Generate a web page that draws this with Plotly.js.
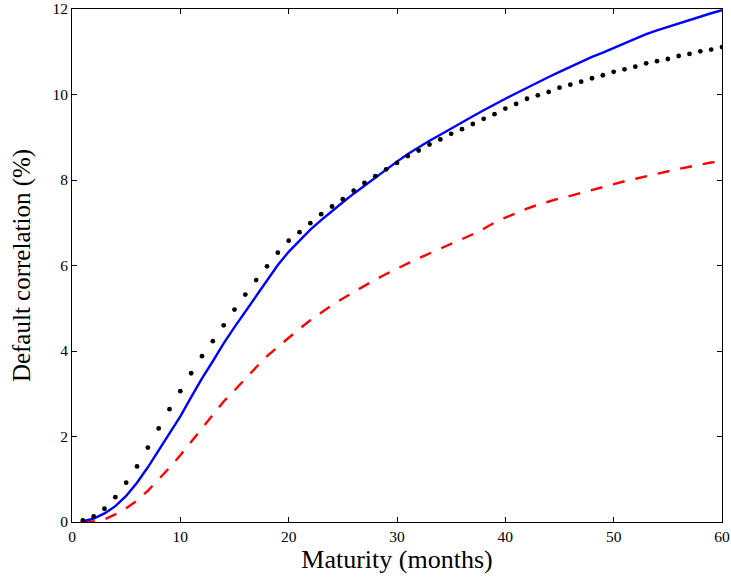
<!DOCTYPE html>
<html>
<head>
<meta charset="utf-8">
<script src="https://cdn.plot.ly/plotly-3.0.1.min.js"></script>
<style>html,body{margin:0;padding:0;background:#fff;}#chart{width:731px;height:579px;}</style>
</head>
<body>
<div id="chart"></div>
<script>
// Maturity in months
const months = [1,2,3,4,5,6,7,8,9,10,11,12,13,14,15,16,17,18,19,20,21,22,23,24,25,26,27,28,29,30,
  31,32,33,34,35,36,37,38,39,40,41,42,43,44,45,46,47,48,49,50,51,52,53,54,55,56,57,58,59,60];

// Blue solid series (%)
const blueSeries = [0.02,0.08,0.20,0.37,0.61,0.92,1.28,1.68,2.06,2.47,2.92,3.36,3.76,4.18,4.56,4.92,5.29,5.66,6.01,6.32,
  6.58,6.84,7.06,7.28,7.48,7.68,7.87,8.07,8.26,8.43,8.61,8.77,8.92,9.06,9.21,9.35,9.49,9.63,9.77,9.90,
  10.03,10.16,10.29,10.41,10.53,10.65,10.77,10.88,10.98,11.09,11.20,11.31,11.41,11.50,11.58,11.67,11.75,11.83,11.90,11.97];

// Black dotted series (%)
const dotSeries = [0.035,0.13,0.31,0.58,0.92,1.30,1.74,2.19,2.64,3.06,3.48,3.88,4.23,4.60,4.97,5.32,5.66,5.98,6.30,6.58,
  6.78,6.99,7.20,7.38,7.55,7.75,7.93,8.09,8.25,8.40,8.56,8.69,8.83,8.95,9.08,9.19,9.31,9.43,9.54,9.67,
  9.78,9.90,9.98,10.06,10.16,10.23,10.30,10.38,10.45,10.53,10.59,10.65,10.73,10.78,10.83,10.90,10.95,11.01,11.05,11.11];

// Red dashed series (%)
const redSeries = [0.0,0.02,0.06,0.18,0.32,0.50,0.73,0.99,1.27,1.56,1.88,2.20,2.52,2.82,3.08,3.36,3.62,3.88,4.10,4.31,
  4.52,4.72,4.90,5.07,5.23,5.38,5.53,5.67,5.80,5.93,6.05,6.17,6.28,6.39,6.50,6.61,6.73,6.86,7.00,7.12,
  7.23,7.33,7.42,7.50,7.57,7.63,7.70,7.77,7.84,7.90,7.97,8.03,8.09,8.15,8.20,8.26,8.31,8.36,8.41,8.44];

const xTicks = [0,10,20,30,40,50,60];
const yTicks = [0,2,4,6,8,10,12];

const FONT = 'Liberation Serif, DejaVu Serif, serif';

const traces = [
  {x: months, y: redSeries, mode: 'lines', line: {color: '#ff0000', width: 2.4, dash: '12px,11px'}, hoverinfo: 'skip'},
  {x: months, y: blueSeries, mode: 'lines', line: {color: '#0000ff', width: 2.4}, hoverinfo: 'skip'},
  {x: months, y: dotSeries, mode: 'markers', marker: {color: '#000000', size: 4.8}, hoverinfo: 'skip'}
];

const axisCommon = {
  showgrid: false, zeroline: false, showline: true, linecolor: '#000', linewidth: 1,
  mirror: 'ticks', ticks: 'inside', ticklen: 5, tickwidth: 1, tickcolor: '#000',
  tickfont: {family: FONT, size: 15.5, color: '#000'}
};

const layout = {
  width: 731, height: 579,
  margin: {l: 72, r: 9, t: 9, b: 57, pad: 0},
  paper_bgcolor: '#fff', plot_bgcolor: '#fff',
  showlegend: false,
  xaxis: Object.assign({}, axisCommon, {
    range: [0, 60], tickvals: xTicks, ticktext: xTicks.map(String),
    title: {text: 'Maturity (months)', font: {family: FONT, size: 26, color: '#000'}, standoff: 6}
  }),
  yaxis: Object.assign({}, axisCommon, {
    range: [0, 12], tickvals: yTicks, ticktext: yTicks.map(String),
    title: {text: 'Default correlation (%)', font: {family: FONT, size: 25, color: '#000'}, standoff: 14}
  })
};

Plotly.newPlot('chart', traces, layout, {staticPlot: true, displayModeBar: false});
</script>
</body>
</html>
